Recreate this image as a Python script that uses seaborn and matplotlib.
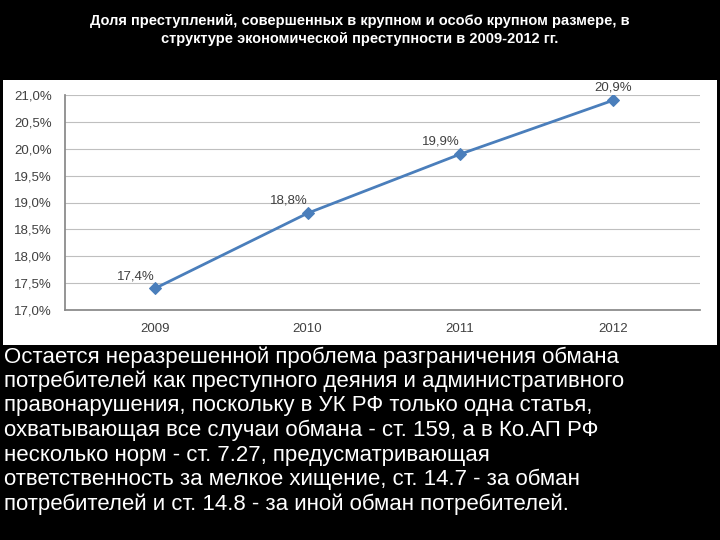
import seaborn as sns
import pandas as pd
import matplotlib.pyplot as plt
from matplotlib.patches import Rectangle

years = ["2009", "2010", "2011", "2012"]
share = [17.4, 18.8, 19.9, 20.9]
yticks = [17.0, 17.5, 18.0, 18.5, 19.0, 19.5, 20.0, 20.5, 21.0]

title = ("Доля преступлений, совершенных в крупном и особо крупном размере, в\n"
         "структуре экономической преступности в 2009-2012 гг.")
body = ["Остается неразрешенной проблема разграничения обмана",
        "потребителей как преступного деяния и административного",
        "правонарушения, поскольку в УК РФ только одна статья,",
        "охватывающая все случаи обмана - ст. 159, а в Ко.АП РФ",
        "несколько норм - ст. 7.27, предусматривающая",
        "ответственность за мелкое хищение, ст. 14.7 - за обман",
        "потребителей и ст. 14.8 - за иной обман потребителей."]

df = pd.DataFrame({"x": range(len(years)), "share": share})

sns.set_theme(style="white")
plt.rcParams['font.family'] = ['Liberation Sans', 'DejaVu Sans']

fig = plt.figure(figsize=(7.2, 5.4), dpi=100)
fig.patch.set_facecolor("black")
fig.patches.append(Rectangle((0.004, 0.361), 0.992, 0.491, transform=fig.transFigure,
                             facecolor="white", edgecolor="none", zorder=0))

ax = fig.add_axes([0.09, 0.426, 0.882, 0.398])
ax.set_zorder(2)
ax.set_facecolor("white")
sns.lineplot(data=df, x="x", y="share", ax=ax, color="#4A7EBB", linewidth=2,
             marker="D", markersize=6, markeredgecolor="#4A7EBB")
for i, v in enumerate(share):
    ax.text(i, v + 0.12, f"{v:.1f}%".replace(".", ","), ha="right" if i < 3 else "center",
            va="bottom", fontsize=9.5, color="#404040")
ax.set_xlim(-0.59, 3.57)
ax.set_ylim(17.0, 21.0)
ax.set_yticks(yticks)
ax.set_yticklabels([f"{t:.1f}%".replace(".", ",") for t in yticks], fontsize=9.5, color="#404040")
ax.set_xticks(range(len(years)))
ax.set_xticklabels(years, fontsize=9.5, color="#404040")
ax.yaxis.grid(True, color="#BFBFBF", linewidth=0.8)
ax.set_xlabel("")
ax.set_ylabel("")
for s in ["top", "right"]:
    ax.spines[s].set_visible(False)
ax.spines["left"].set_color("#888888")
ax.spines["bottom"].set_color("#888888")

fig.text(0.5, 0.975, title, ha="center", va="top", color="white", fontsize=10.5,
         fontweight="bold", linespacing=1.4)
for k, line in enumerate(body):
    fig.text(0.006, 1 - (357 + 24.5 * k) / 540, line, ha="left", va="center",
             color="white", fontsize=16)

fig.savefig("out.png", dpi=100, facecolor=fig.get_facecolor())
